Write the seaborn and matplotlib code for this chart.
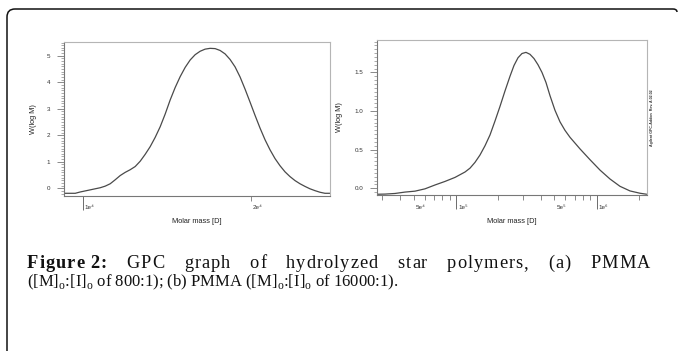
import pandas as pd
import seaborn as sns
import matplotlib.pyplot as plt
import matplotlib.transforms as mtransforms
from matplotlib.patches import PathPatch
from matplotlib.path import Path
from matplotlib.ticker import MultipleLocator

# (a) PMMA 800:1 -- molar mass [D] vs W(log M)
mass_a = [9258, 9490, 9687, 9889, 10095, 10306, 10520, 10740, 10963, 11192,
          11425, 11664, 11907, 12155, 12409, 12667, 12931, 13201, 13476, 13757,
          14044, 14336, 14635, 14940, 15252, 15570, 15894, 16225, 16563, 16908,
          17260, 17620, 17987, 18362, 18745, 19135, 19534, 19941, 20357, 20781,
          21214, 21656, 22107, 22568, 23038, 23518, 24008, 24508, 25019, 25540,
          26073, 26615, 27170, 27740]
w_a = [-0.19, -0.19, -0.19, -0.14, -0.10, -0.06, -0.02, 0.02, 0.08, 0.17,
       0.32, 0.48, 0.60, 0.70, 0.82, 1.02, 1.28, 1.57, 1.92, 2.32,
       2.80, 3.33, 3.80, 4.21, 4.56, 4.84, 5.04, 5.17, 5.25, 5.28,
       5.27, 5.20, 5.07, 4.86, 4.58, 4.20, 3.74, 3.25, 2.75, 2.27,
       1.83, 1.45, 1.12, 0.85, 0.62, 0.44, 0.29, 0.17, 0.07, -0.02,
       -0.09, -0.15, -0.19, -0.19]

# (b) PMMA 16000:1
mass_b = [27590, 31290, 36860, 43400, 51130, 60210, 70930, 83530, 98380, 115900,
          125800, 136500, 148100, 160800, 174500, 189300, 205500, 223000, 242000, 258400,
          275900, 294500, 314500, 335700, 358500, 382700, 408600, 436200, 465700, 505400,
          548700, 595300, 646100, 760800, 896100, 1056000, 1243000, 1464000, 1725000, 2032000,
          2267000]
w_b = [-0.078, -0.076, -0.068, -0.050, -0.038, -0.008, 0.042, 0.088, 0.140, 0.210,
       0.26, 0.335, 0.43, 0.55, 0.69, 0.87, 1.06, 1.26, 1.45, 1.59,
       1.69, 1.745, 1.76, 1.735, 1.68, 1.60, 1.50, 1.37, 1.20, 1.01,
       0.86, 0.75, 0.66, 0.51, 0.37, 0.235, 0.12, 0.025, -0.035, -0.065,
       -0.078]

xticks_a = [1e4, 2e4]
xticklabels_a = ['1e⁴', '2e⁴']
xticklabels_b = {5e4: '5e⁴', 1e5: '1e⁵', 5e5: '5e⁵', 1e6: '1e⁶'}
yticks_b = [0.0, 0.5, 1.0, 1.5]

sns.set_theme(style='white')
plt.rcParams['font.family'] = ['Liberation Sans', 'DejaVu Sans']
plt.rcParams['mathtext.fontset'] = 'custom'
plt.rcParams['mathtext.rm'] = 'Liberation Serif'
plt.rcParams['savefig.bbox'] = 'standard'

fig = plt.figure(figsize=(6.78, 3.51), dpi=100)
ax1 = fig.add_axes([0.0948, 0.4425, 0.3919, 0.4379])
ax2 = fig.add_axes([0.5565, 0.4444, 0.3973, 0.4416])

line_col = '#4a4a4a'
df_a = pd.DataFrame({'M': mass_a, 'W': w_a})
df_b = pd.DataFrame({'M': mass_b, 'W': w_b})
sns.lineplot(data=df_a, x='M', y='W', ax=ax1, color=line_col, linewidth=0.9, sort=False, estimator=None)
sns.lineplot(data=df_b, x='M', y='W', ax=ax2, color=line_col, linewidth=0.9, sort=False, estimator=None)

tick_kw = dict(width=0.6, labelsize=4.5, bottom=True, labelcolor='#333333')
for ax in (ax1, ax2):
    ax.set_xscale('log')
    for s in ('top', 'right'):
        ax.spines[s].set_color('#b5b5b5')
        ax.spines[s].set_linewidth(0.8)
    for s in ('left', 'bottom'):
        ax.spines[s].set_color('#777777')
        ax.spines[s].set_linewidth(0.8)
    ax.tick_params(axis='y', which='major', length=5, width=0.6, color='#777777',
                   labelsize=4.5, pad=5, left=True, labelcolor='#333333')
    ax.tick_params(axis='y', which='minor', length=2.5, width=0.5, color='#888888', left=True)
    ax.set_xlabel('Molar mass [D]', fontsize=5.3, color='#222222')
    ax.set_ylabel('W(log M)', fontsize=5.3, color='#222222')

# panel (a)
ax1.set_xlim(mass_a[0], mass_a[-1])
ax1.set_ylim(-0.28, 5.52)
ax1.yaxis.set_major_locator(MultipleLocator(1))
ax1.yaxis.set_minor_locator(MultipleLocator(0.1))
ax1.set_xticks(xticks_a[:1], labels=xticklabels_a[:1])
ax1.set_xticks(xticks_a[1:], labels=xticklabels_a[1:], minor=True)
ax1.xaxis.set_label_coords(0.5, -0.145)
ax1.yaxis.set_label_coords(-0.1016, 0.5)

# panel (b)
ax2.set_xlim(mass_b[0], mass_b[-1])
ax2.set_ylim(-0.088, 1.92)
ax2.set_yticks(yticks_b)
ax2.yaxis.set_major_formatter(plt.FormatStrFormatter('%.1f'))
ax2.yaxis.set_minor_locator(MultipleLocator(0.05))
minor_b = [m * d for d in (1e4, 1e5, 1e6) for m in range(2, 10) if mass_b[0] <= m * d <= mass_b[-1]]
ax2.set_xticks([1e5, 1e6], labels=[xticklabels_b[1e5], xticklabels_b[1e6]])
ax2.set_xticks(minor_b, labels=[xticklabels_b.get(v, '') for v in minor_b], minor=True)
ax2.xaxis.set_label_coords(0.5, -0.148)
ax2.yaxis.set_label_coords(-0.127, 0.5)

off = mtransforms.ScaledTranslation(2 / 100, 0, fig.dpi_scale_trans)
for ax in (ax1, ax2):
    ax.tick_params(axis='x', which='major', length=10, color='#555555', pad=-3, **tick_kw)
    ax.tick_params(axis='x', which='minor', length=3.5, color='#777777', pad=3.5, **tick_kw)
    for lab in ax.get_xticklabels(which='both'):
        lab.set_horizontalalignment('left')
        lab.set_transform(lab.get_transform() + off)

ax2.text(1.02, 0.5, 'Agilent GPC-Addon  Rev. A.02.02', transform=ax2.transAxes, rotation=90,
         fontsize=2.6, fontweight='bold', color='#333333', ha='center', va='center')

# outer frame: top and left edges only, rounded top-left corner (inches)
verts = [(0.07, 0.0), (0.07, 3.34), (0.07, 3.42), (0.15, 3.42),
         (6.73, 3.42), (6.77, 3.42), (6.77, 3.39)]
codes = [Path.MOVETO, Path.LINETO, Path.CURVE3, Path.CURVE3,
         Path.LINETO, Path.CURVE3, Path.CURVE3]
frame = PathPatch(Path(verts, codes), transform=fig.dpi_scale_trans, fill=False,
                  edgecolor='#111111', linewidth=1.1)
fig.patches.append(frame)

# caption: first line justified with a little letter spacing
serif = ['Liberation Serif', 'DejaVu Serif']
words = [('Figure 2:', 'bold'), ('GPC', 'normal'), ('graph', 'normal'), ('of', 'normal'),
         ('hydrolyzed', 'normal'), ('star', 'normal'), ('polymers,', 'normal'), ('(a)', 'normal'),
         ('PMMA', 'normal')]
base_y = 1 - 268 / 351
chars = []
for w, wt in words:
    chars.append([fig.text(0, base_y, c, fontsize=13.2, fontweight=wt, family=serif, color='#111111',
                           va='baseline', ha='left') for c in w])
fig.canvas.draw()
r = fig.canvas.get_renderer()
space_w = 4.0
cw = [[space_w if c == ' ' else t.get_window_extent(r).width for c, t in zip(w, cs)]
      for (w, _), cs in zip(words, chars)]
x0, x1 = 27, 650
total_c = sum(sum(c) for c in cw)
n_intra = sum(len(c) - 1 for c in cw)
word_gap = 15.0
track = min(1.0, max(0.0, (x1 - x0 - total_c - word_gap * (len(words) - 1)) / n_intra))
word_gap = (x1 - x0 - total_c - track * n_intra) / (len(words) - 1)
x = x0
for cs, ws in zip(chars, cw):
    for t, w in zip(cs, ws):
        t.set_x(x / 678)
        x += w + track
    x += word_gap - track

line2 = (r'([M]$_\mathrm{o}$:[I]$_\mathrm{o}$ of 800:1); (b) PMMA '
         r'([M]$_\mathrm{o}$:[I]$_\mathrm{o}$ of 16000:1).')
fig.text(x0 / 678, 1 - 286 / 351, line2, fontsize=12, family=serif, color='#111111',
         va='baseline', ha='left')

fig.savefig('out.png', dpi=100)
